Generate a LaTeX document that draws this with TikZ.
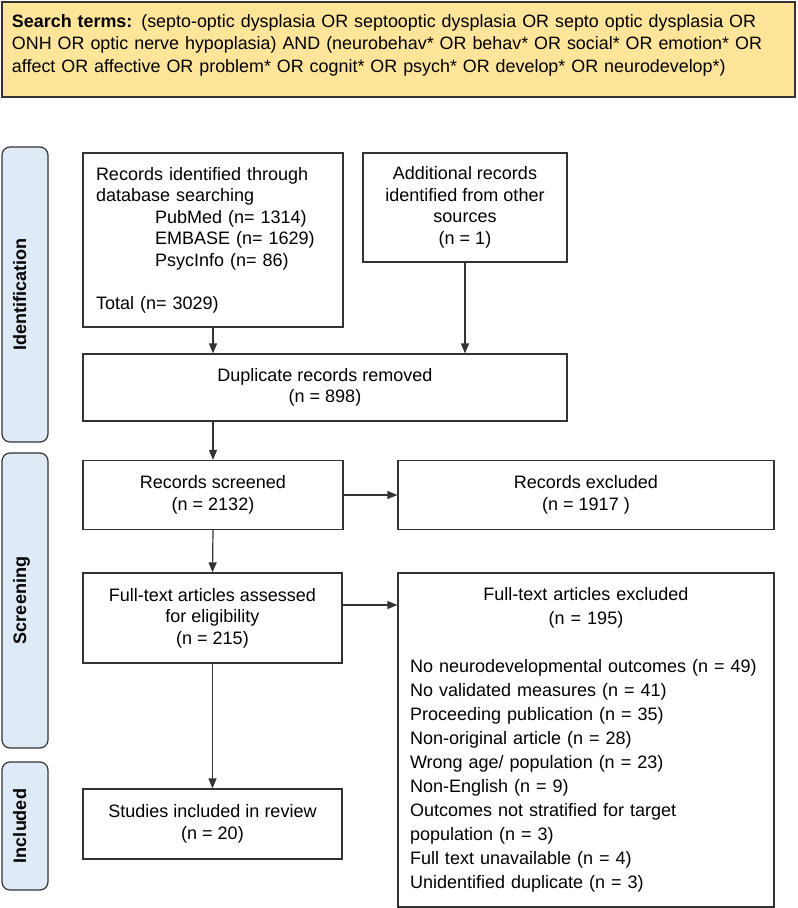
\documentclass[tikz,border=0pt]{standalone}
\usepackage{fontspec}
\setmainfont{Liberation Sans}
\usetikzlibrary{arrows.meta,positioning}
\definecolor{termsyellow}{HTML}{FFE599}
\definecolor{phaseblue}{HTML}{DEEBF7}
\definecolor{linegray}{HTML}{333333}

\begin{document}
\begin{tikzpicture}[x=1pt, y=-1pt, line width=1.2pt,
  font=\fontsize{18}{21.5}\selectfont,
  box/.style={draw=linegray, rectangle, inner sep=0pt, align=center},
  phase/.style={draw=linegray, fill=phaseblue, rounded corners=8pt},
  phaselabel/.style={rotate=90, anchor=base, font=\fontsize{18}{21.5}\selectfont\bfseries},
  flow/.style={draw=linegray, -{Triangle[length=10pt,width=8pt]}}]
  \useasboundingbox (0,0) rectangle (798,908);

  \node[box, fill=termsyellow, minimum width=793, minimum height=95, text width=773, align=left,
        font=\fontsize{17.9}{22.5}\selectfont] (terms) at (398.5,49.5)
    {\textbf{Search terms:} (septo-optic dysplasia OR septooptic dysplasia OR septo optic dysplasia OR\\
     ONH OR optic nerve hypoplasia) AND (neurobehav* OR behav* OR social* OR emotion* OR\\
     affect OR affective OR problem* OR cognit* OR psych* OR develop* OR neurodevelop*)\\[-10pt]\mbox{}};

  \foreach \top/\bot/\name/\txt in {147/442/ident/Identification, 453/748/screen/Screening, 762/890/incl/Included} {
    \draw[phase] (2,\top) rectangle (48,\bot);
    \node[phaselabel] (\name label) at (26,{(\top+\bot)/2}) {\txt};
  }

  \node[box, minimum width=260, minimum height=174, text width=234, align=left] (records) at (213,240)
    {Records identified through\\database searching\\
     \hspace*{59pt}PubMed (n= 1314)\\\hspace*{59pt}EMBASE (n= 1629)\\\hspace*{59pt}PsycInfo (n= 86)\\[21.5pt]Total (n= 3029)};
  \node[box, minimum width=204, minimum height=109] (additional) at (465,207.5)
    {Additional records\\identified from other\\sources\\(n = 1)};
  \node[box, minimum width=484, minimum height=67] (duplicates) at (325,387.5)
    {Duplicate records removed\\(n = 898)};
  \node[box, minimum width=260, minimum height=69] (screened) at (213,495)
    {Records screened\\(n = 2132)};
  \node[box, minimum width=376, minimum height=69] (excluded) at (586,495)
    {Records excluded\\(n = 1917 )};
  \node[box, minimum width=259, minimum height=90] (assessed) at (212.5,618)
    {Full-text articles assessed\\for eligibility\\(n = 215)};
  \node[box, minimum width=376, minimum height=334, text width=352, align=left,
        font=\fontsize{18}{24}\selectfont] (ftexcluded) at (586,740)
    {\makebox[352pt]{Full-text articles excluded}\\\makebox[352pt]{(n = 195)}\\[24pt]
     No neurodevelopmental outcomes (n = 49)\\No validated measures (n = 41)\\
     Proceeding publication (n = 35)\\Non-original article (n = 28)\\
     Wrong age/ population (n = 23)\\Non-English (n = 9)\\
     Outcomes not stratified for target\\population (n = 3)\\
     Full text unavailable (n = 4)\\Unidentified duplicate (n = 3)};
  \node[box, minimum width=259, minimum height=70] (included) at (212.5,824)
    {Studies included in review\\(n = 20)};

  \draw[flow] (records.south) -- (records.south |- duplicates.north);
  \draw[flow] (additional.south) -- (additional.south |- duplicates.north);
  \draw[flow] (duplicates.south -| screened.north) -- (screened.north);
  \draw[flow] (screened.east) -- (excluded.west);
  \draw[flow] (screened.south) -- (assessed.north);
  \draw[flow] ([yshift=13pt]assessed.east) -- ([yshift=13pt]assessed.east -| ftexcluded.west);
  \draw[flow] (assessed.south) -- (included.north);
\end{tikzpicture}
\end{document}
